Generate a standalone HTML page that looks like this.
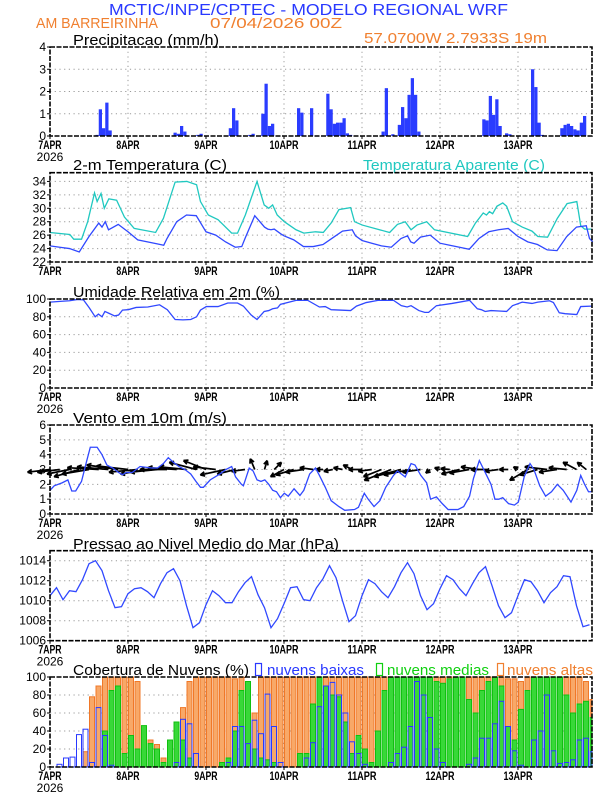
<!DOCTYPE html>
<html><head><meta charset="utf-8"><style>
html,body{margin:0;padding:0;background:#fff;}
svg{display:block;font-family:"Liberation Sans",sans-serif;}
</style></head><body>
<svg id="chart" width="612" height="792" viewBox="0 0 612 792" xmlns="http://www.w3.org/2000/svg">
<g id="static">
<text x="109" y="15" font-size="16" fill="#2838ff" textLength="399" lengthAdjust="spacingAndGlyphs">MCTIC/INPE/CPTEC - MODELO REGIONAL WRF</text>
<text x="36" y="28" font-size="15" fill="#f08030" textLength="122" lengthAdjust="spacingAndGlyphs">AM BARREIRINHA</text>
<text x="210" y="28" font-size="15" fill="#f08030" textLength="132" lengthAdjust="spacingAndGlyphs">07/04/2026 00Z</text>
<text x="73" y="45" font-size="15" fill="#000" textLength="146" lengthAdjust="spacingAndGlyphs">Precipitacao (mm/h)</text>
<text x="364" y="43" font-size="15" fill="#f08030" textLength="183" lengthAdjust="spacingAndGlyphs">57.0700W 2.7933S 19m</text>
<text x="73" y="170" font-size="15" fill="#000" textLength="154" lengthAdjust="spacingAndGlyphs">2-m Temperatura (C)</text>
<text x="363" y="170" font-size="15" fill="#20c8c0" textLength="182" lengthAdjust="spacingAndGlyphs">Temperatura Aparente (C)</text>
<text x="73" y="297" font-size="15" fill="#000" textLength="207" lengthAdjust="spacingAndGlyphs">Umidade Relativa em 2m (%)</text>
<text x="73" y="423" font-size="15" fill="#000" textLength="154" lengthAdjust="spacingAndGlyphs">Vento em 10m (m/s)</text>
<text x="73" y="549" font-size="15" fill="#000" textLength="266" lengthAdjust="spacingAndGlyphs">Pressao ao Nivel Medio do Mar (hPa)</text>
<text x="73" y="675" font-size="15" fill="#000" textLength="176" lengthAdjust="spacingAndGlyphs">Cobertura de Nuvens (%)</text>
<rect x="255.5" y="663.5" width="6" height="12" fill="none" stroke="#2838ff" stroke-width="1.2"/>
<text x="267" y="675" font-size="15" fill="#2838ff" textLength="97" lengthAdjust="spacingAndGlyphs">nuvens baixas</text>
<rect x="376.5" y="663.5" width="6" height="12" fill="none" stroke="#10d010" stroke-width="1.2"/>
<text x="387" y="675" font-size="15" fill="#10d010" textLength="102" lengthAdjust="spacingAndGlyphs">nuvens medias</text>
<rect x="497.5" y="663.5" width="6" height="12" fill="none" stroke="#f08030" stroke-width="1.2"/>
<text x="507" y="675" font-size="15" fill="#f08030" textLength="86" lengthAdjust="spacingAndGlyphs">nuvens altas</text>
</g>
<g id="plots"></g>
</svg>
<script>
// ---- data ----
const dayLabels = ["7APR","8APR","9APR","10APR","11APR","12APR","13APR"];
const precipHours = [14,15,16,17,18,38,39,40,41,45,46,55,56,57,61,62,65,66,67,68,76,77,80,85,86,87,88,89,90,91,92,102,103,105,107,108,109,110,111,112,113,133,134,135,136,137,138,140,141,148,149,150,151,157,158,159,160,161,162,163,164];
const precipValues = [0.05,1.2,0.35,1.5,0.25,0.15,0.1,0.45,0.2,0.05,0.1,0.35,1.25,0.7,0.05,0.1,1.0,2.35,0.45,0.55,1.25,1.05,1.25,1.9,1.2,0.55,0.6,0.6,0.8,0.12,0.05,0.2,2.15,0.08,0.5,1.3,0.8,1.85,2.6,1.85,0.2,0.75,0.7,1.8,0.95,1.65,0.45,0.12,0.08,3.0,2.2,0.6,0.05,0.35,0.5,0.55,0.45,0.3,0.25,0.6,0.9];
const precipTicks = [0,1,2,3,4];

const tempHours = [0,3,6,9,12,15,16,17,18,21,24,27,30,33,35,36,39,42,45,48,51,54,57,59,60,63,66,67,68,69,71,72,75,78,81,84,87,90,93,94,96,99,102,105,108,110,111,112,114,117,120,123,126,129,132,135,138,141,144,147,150,153,156,159,162,165,166,167];
const tempValues = [24.4,24.2,24.0,23.5,25.8,27.8,27.2,28.0,26.8,27.6,26.5,25.3,25.0,24.7,24.5,25.5,28.0,29.0,28.9,26.5,26.0,25.0,24.2,24.3,25.5,28.9,27.2,26.9,26.8,26.9,26.2,25.9,25.3,24.3,24.3,24.6,25.6,26.6,26.8,25.9,25.2,24.8,24.4,24.2,25.5,25.9,25.0,24.8,25.7,26.0,24.8,24.5,24.2,23.9,25.5,26.5,26.8,27.0,25.8,25.0,24.6,23.8,23.7,25.8,27.2,27.4,25.5,25.0];
const appHours = [0,6.1,7.3,9.7,11.6,13.7,14.5,15.7,16.7,18.1,20.5,22.9,25.9,32.5,34.9,38.5,42.1,45.1,46.3,48.7,51.7,55.9,57.7,60.1,63.7,65.9,67.3,68.5,69.9,72.1,75.7,78.1,81.7,84.1,86.5,88.9,92.5,93.7,96.1,104.5,106.9,109.3,111.1,112.9,115.9,118.3,128.5,130.9,133.3,134.3,135.2,136.2,137.5,139.3,140.5,142.3,145.3,148.3,150.1,153.1,156.1,159.1,162.1,163.3,164.5,166.6];
const appValues = [26.4,26.1,25.4,25.4,28,32.3,31,32.2,30,31.4,31.2,28.7,27,26.4,28.5,33.9,34,33.5,31,29,28.3,26.3,26.3,29,34,30.5,30,30.5,29,28,26.8,26.3,26.5,26.4,27.8,29.8,30.1,28,27.5,26.4,27.6,28.0,26.8,27.5,28,26.8,25.8,27.8,29.3,29.0,29.5,29.2,30.3,30.8,30.3,28,27.2,26.6,25.8,25.7,28.5,30.7,31,27.4,26.9,26.9];
const tempTicks = [22,24,26,28,30,32,34];

const rhHours = [0,3.7,6,8.5,10.3,12.1,13.9,14.9,16,16.9,18.1,19.9,21.1,22.3,24.1,26.5,30.1,33.7,36.1,38.5,40.9,43.3,45.1,46.3,48.1,51.7,54.7,57.7,59.5,61.9,63.7,65.9,67.3,68.5,70,70.9,75.7,79.3,82.9,84.7,86.5,92.5,94.3,97.3,100.9,105.7,108.1,109.9,111.1,113.5,115.3,116.5,118.9,123.7,129.1,131.5,132.7,133.9,135.7,138.1,140.5,142.3,145.3,148.3,150.1,153.7,154.9,156.7,158.5,162.1,163.3,166.6];
const rhValues = [96.5,97.5,98,99.5,99,90,80,83,80,86,84,81,82,87.5,88,90.5,91,93.5,88,77,76.5,77,80,87.5,91.5,91.5,95.5,95.5,92,82,77,86,87,89,90,94,98.5,98.5,91,91.5,88,87,92,96,98.5,98.5,92.5,91,92.5,87,85,85,92.5,95,98.5,89,88,86,87,86.5,86,92.5,96.5,95,96.5,98,96,84.5,83.5,82.5,91.5,92];
const rhTicks = [0,20,40,60,80,100];

const windHours = [0,1.3,3.7,5.5,6.7,7.9,9.7,11.2,12.4,14.5,16,17.5,19.3,21.1,22.3,23.5,25.3,27.7,31.3,33.1,34.9,36.4,37.9,39.7,41.5,43.3,44.9,46.3,47.2,49.3,52.3,54.1,55.9,57.1,58.9,59.5,61.3,62.5,63.7,64.9,66.1,67.3,68.5,69.7,70.9,72.1,73.3,75.1,76.9,78.1,79.9,81.7,82.9,84.7,86.5,88.9,90.7,93.7,94.9,96.7,97.9,99.7,101.5,103.3,105.7,106.9,109.3,111.1,112.3,114.1,115.9,117.1,118.9,120.7,122.5,125.5,127.3,129.1,130.3,132.1,133.9,135.7,136.9,138.1,139.3,141.1,142.9,144.1,145.9,147.7,148.9,150.7,152.5,154.3,156.1,157.9,160.3,162.1,163.3,164.5,165.7,166.6];
const windSpeed = [1.6,1.9,2.1,2.3,1.55,1.55,2.2,3.5,4.5,4.5,4.0,3.3,3.1,2.8,2.65,2.8,2.8,3.2,3.1,3.1,3.4,3.8,3.5,3.2,3.0,2.7,2.2,1.8,1.8,2.3,2.7,3.0,3.2,2.5,2.0,1.9,3.1,2.9,2.3,2.2,2.3,2.0,1.6,1.5,1.1,1.4,1.2,1.7,1.25,1.6,2.7,3.1,2.6,1.8,0.9,0.5,0.25,0.3,0.45,1.4,1.0,0.5,0.9,1.8,2.6,2.9,2.5,3.4,3.3,2.6,2.1,1.0,1.15,0.7,0.3,0.3,0.5,1.2,2.4,3.6,2.8,2.0,1.0,1.0,1.1,0.7,0.6,0.8,2.5,3.4,3.0,1.9,1.2,1.5,2.0,1.6,0.8,1.6,2.6,2.0,1.5,1.5];
const vecHours = [0,3,6,9,12,15,18,21,24,27,30,33,36,39,42,45,48,51,54,57,60,63,66,69,72,75,78,81,84,87,90,93,96,99,102,105,108,111,114,117,120,123,126,129,132,135,138,141,144,147,150,153,156,159,162,165];
const windU = [-2.5,-2.5,-2.5,-2.8,-3,-3.5,-3.5,-3.5,-3.5,-3.2,-3,-3,-3,-3.2,-3,-3,-2.5,-2.5,-2.8,-2,-1.5,-0.5,0.3,0.8,-1.5,-2,-2,-1.5,-0.8,-1,-1,-1,-1.5,-1.5,-2,-3,-3,-3,-2,-0.5,-0.6,-1,-2,-2.2,-2,-2,-1.5,-1,-0.5,-2,-2,-2.5,-2,-2,-1.5,-1];
const windV = [-0.3,-0.3,-0.5,-0.8,-0.5,0.2,0.3,0.5,0.4,-0.3,-0.5,-0.3,0,0.2,0.3,0.8,1.0,0.3,-0.6,-0.5,-0.2,1.2,1.0,0.8,-0.8,-0.6,-0.3,0.2,0,-0.2,0.2,0.5,0,-0.2,-0.8,-1.2,-0.8,-0.6,-0.3,-0.4,0.2,0.1,-0.5,-0.4,0.3,0,-0.2,0,0.3,-1.2,-0.6,0.3,-0.3,0.2,0.8,0.8];
const windTicks = [0,1,2,3,4,5,6];

const presValues = [1010.5,1011.3,1010.1,1011.0,1010.9,1012.1,1013.7,1014.0,1013.0,1011.0,1009.3,1009.4,1010.7,1011.2,1011.3,1010.9,1010.3,1011.7,1012.8,1013.2,1012.0,1009.5,1007.3,1007.8,1009.6,1011.0,1010.5,1009.8,1009.8,1010.9,1011.8,1012.4,1010.6,1009.3,1007.3,1008.2,1009.7,1011.3,1011.4,1010.1,1010.0,1011.3,1012.2,1013.5,1012.3,1010.0,1007.9,1008.5,1010.5,1012.1,1011.7,1010.9,1010.3,1011.4,1012.8,1013.8,1012.7,1010.5,1009.1,1009.7,1011.2,1012.5,1012.1,1011.2,1010.5,1011.7,1012.8,1013.4,1011.5,1009.5,1008.3,1008.8,1010.5,1012.1,1011.9,1011.0,1009.8,1010.8,1011.4,1012.5,1012.4,1009.5,1007.4,1007.6];
const presStepHours = 2;
const presTicks = [1006,1008,1010,1012,1014];

const cloudStepHours = 2;
const cloudHigh = [0,0,0,0,0,17,78,90,100,100,100,100,100,95,40,30,25,10,0,20,66,95,100,100,100,100,100,100,98,100,90,60,100,100,100,100,100,100,100,100,100,100,100,100,100,100,100,100,100,100,100,100,100,100,100,100,100,100,100,100,100,100,100,100,100,100,100,100,100,100,98,98,95,100,100,100,100,100,100,100,100,100,95,75];
const cloudMid = [0,0,0,0,0,0,0,0,40,85,90,15,35,20,46,26,20,5,30,50,30,10,0,0,0,0,5,10,40,85,95,20,10,8,5,0,0,0,15,15,70,100,90,80,78,50,15,35,20,5,40,85,100,100,100,100,100,100,100,95,93,98,100,100,75,60,85,95,100,90,45,30,64,85,100,100,100,100,100,80,60,70,73,55];
const cloudLow = [0,3,10,11,36,42,5,66,35,2,0,0,0,0,0,0,0,0,0,5,53,48,15,0,0,0,0,5,45,45,26,52,37,81,45,5,0,0,0,10,27,67,90,94,80,60,28,15,3,0,0,0,5,15,22,45,95,80,55,20,5,0,0,0,3,10,32,32,48,73,45,18,2,0,30,40,80,18,4,5,8,30,32,17];
const cloudTicks = [0,20,40,60,80,100];

// ---- layout ----
const X0 = 50, PXH = 3.25, XR = 592;
function xh(h){ return X0 + h*PXH; }
const NS = "http://www.w3.org/2000/svg";
const plots = document.getElementById('plots');
function mk(tag, attrs, parent){
  const e = document.createElementNS(NS, tag);
  for (const k in attrs) e.setAttribute(k, attrs[k]);
  (parent||plots).appendChild(e);
  return e;
}
function panel(name, top, bot, vmin, vmax, ticks, showYear){
  const g = mk('g', {});
  
  
  const y = v => bot - (v - vmin) / (vmax - vmin) * (bot - top);
  ticks.forEach(t => {
    const yy = y(t);
    if (yy > top + 1 && yy < bot - 1) {
      const gl = mk('line', {x1:X0, x2:XR, y1:yy, y2:yy, stroke:'#9a9a9a', 'stroke-width':1, 'stroke-dasharray':'1.2,3.5'}, g);
      
      
    }
    const lbl = mk('text', {x:46, y:yy+4, 'font-size':12, 'text-anchor':'end', fill:'#000'}, g);
    lbl.textContent = String(t);
    
    
    mk('line', {x1:X0-3, x2:X0, y1:yy, y2:yy, stroke:'#000', 'stroke-width':1}, g);
  });
  dayLabels.forEach((d, i) => {
    const xx = xh(i*24);
    if (i > 0) {
      const vl = mk('line', {x1:xx, x2:xx, y1:top, y2:bot, stroke:'#9a9a9a', 'stroke-width':1, 'stroke-dasharray':'1.2,3.5'}, g);
      
      
    }
    mk('line', {x1:xx, x2:xx, y1:bot, y2:bot+3, stroke:'#000', 'stroke-width':1}, g);
    const tl = mk('text', {x:xx, y:bot+13, 'font-size':12, 'text-anchor':'middle', fill:'#000', textLength: d.length*5.8, lengthAdjust:'spacingAndGlyphs', 'font-weight':'bold'}, g);
    tl.textContent = d;
    
    
  });
  if (showYear) {
    const yl = mk('text', {x:xh(0), y:bot+25, 'font-size':12, 'text-anchor':'middle', fill:'#000'}, g);
    yl.textContent = '2026';
    
    
  }
  return {g, y, top, bot};
}
function frame(p, name){
  const r = mk('rect', {x:X0, y:p.top, width:XR-X0, height:p.bot-p.top, fill:'none', stroke:'#000', 'stroke-width':1.6, 'stroke-dasharray':'5,1.5'}, p.g);
  
  
}
function line(p, hs, vs, color, name){
  const d = hs.map((h,i) => (i ? 'L' : 'M') + xh(h).toFixed(2) + ',' + p.y(vs[i]).toFixed(2)).join(' ');
  const e = mk('path', {d, fill:'none', stroke:color, 'stroke-width':1.3}, p.g);
  
  
}

// Precipitation
const pP = panel('precip', 47, 136, 0, 4, precipTicks, true);
precipHours.forEach((h, i) => {
  const y0 = pP.y(0), y1 = pP.y(precipValues[i]);
  const b = mk('rect', {x:xh(h), y:y1, width:PXH, height:y0-y1, fill:'#2a3cff'}, pP.g);
  
  
});
frame(pP, 'precip');

// Temperature
const pT = panel('temp', 172.7, 262, 22, 35.3, tempTicks, false);
line(pT, appHours, appValues, '#20c8c0', 'apparent-temp-line');
line(pT, tempHours, tempValues, '#3048ff', 'temp-line');
frame(pT, 'temp');

// Humidity
const pH = panel('humidity', 299, 388, 0, 100, rhTicks, true);
line(pH, rhHours, rhValues, '#3048ff', 'humidity-line');
frame(pH, 'humidity');

// Wind
const pW = panel('wind', 425, 514, 0, 6, windTicks, true);
vecHours.forEach((h, i) => {
  const bx = xh(h), by = pW.y(3);
  const sc = 9;
  const tx = bx + windU[i]*sc, ty = by - windV[i]*sc;
  const ang = Math.atan2(ty-by, tx-bx);
  const hl = 5;
  const d = `M${bx},${by} L${tx},${ty} M${tx},${ty} L${tx - hl*Math.cos(ang-0.45)},${ty - hl*Math.sin(ang-0.45)} M${tx},${ty} L${tx - hl*Math.cos(ang+0.45)},${ty - hl*Math.sin(ang+0.45)}`;
  const a = mk('path', {d, stroke:'#000', 'stroke-width':1.7, fill:'none'}, pW.g);
  
  
});
line(pW, windHours, windSpeed, '#3048ff', 'wind-speed-line');
frame(pW, 'wind');

// Pressure
const pS = panel('pressure', 550.7, 640.7, 1006, 1015, presTicks, true);
line(pS, presValues.map((v,i) => i*presStepHours), presValues, '#3048ff', 'pressure-line');
frame(pS, 'pressure');

// Clouds
const pC = panel('cloud', 677, 767, 0, 100, cloudTicks, true);
function cloudBars(vals, fill, stroke, name){
  vals.forEach((v, i) => {
    if (v <= 0) return;
    const x = xh(i*cloudStepHours)+0.5;
    if (x > XR - 2) return;
    const w = Math.min(cloudStepHours*PXH-1.5, XR - x);
    const y0 = pC.y(0), y1 = pC.y(v);
    const r = mk('rect', {x:x, y:y1, width:w, height:y0-y1, fill:fill, stroke:stroke, 'stroke-width':1}, pC.g);
    
    
  });
}
cloudBars(cloudHigh, '#f8a868', '#f07828', 'cloud-high-bar');
cloudBars(cloudMid, '#38d838', '#10c010', 'cloud-mid-bar');
cloudBars(cloudLow, 'none', '#2838ff', 'cloud-low-bar');
frame(pC, 'cloud');
</script>
</body></html>
